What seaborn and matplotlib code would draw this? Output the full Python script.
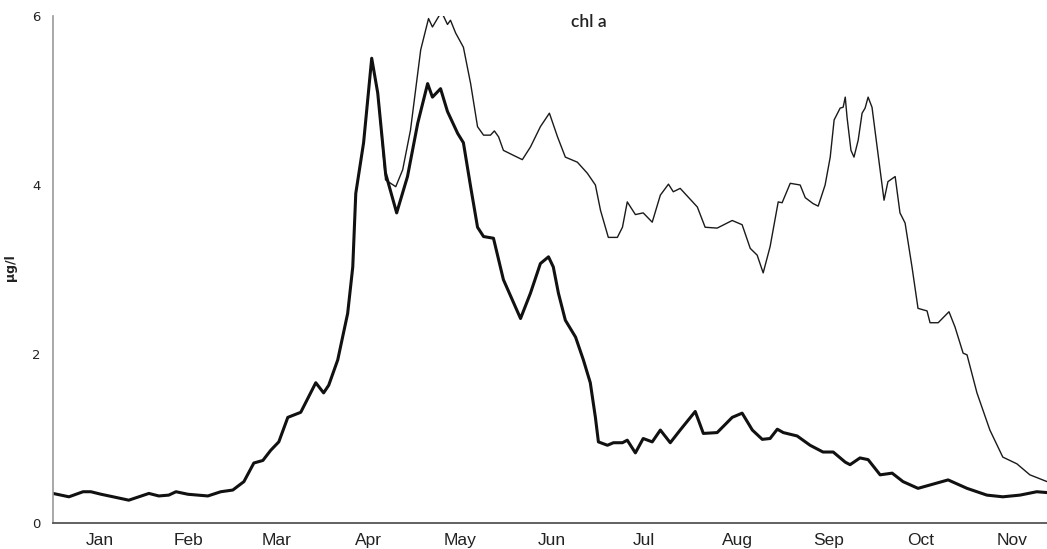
import numpy as np
import pandas as pd
import matplotlib
matplotlib.use("Agg")
import matplotlib.pyplot as plt
import seaborn as sns

# ---- data (day of year, chl a in µg/l) ----
thick_days = [0, 5.3, 10, 12.6, 16, 20, 25.2, 31.9, 35.2, 38.5, 40.9, 44.9, 51.5, 55.8, 59.8,
              63.5, 66.8, 69.8, 72.4, 75.1, 78.1, 82.4, 87.4, 90, 91.7, 94.7, 98, 99.7, 100.7,
              103.3, 106, 108, 110.6, 114.3, 117.9, 121.3, 124.6, 126.2, 128.9, 131.2, 134.6,
              136.5, 138.9, 141.2, 143.2, 146.5, 149.8, 155.5, 158.8, 162.1, 164.8, 166.4,
              168.1, 170.4, 173.8, 176.4, 178.7, 180.4, 181.4, 184.4, 186.4, 189.4, 191, 193.7,
              196.3, 199.3, 202, 205.3, 208.6, 213.6, 216.3, 220.9, 225.9, 229.2, 232.6, 235.9,
              238.5, 240.9, 242.9, 247.5, 251.8, 256.1, 259.5, 263.5, 265.1, 268.4, 271.1,
              275.1, 279.1, 282.7, 287.7, 291.7, 297.7, 304, 310.6, 315.9, 321.6, 327.2, 330.6]
thick_vals = [0.35, 0.31, 0.37, 0.37, 0.34, 0.31, 0.27, 0.35, 0.32, 0.33, 0.37, 0.34, 0.32, 0.37, 0.39,
              0.49, 0.71, 0.74, 0.86, 0.96, 1.25, 1.31, 1.66, 1.54, 1.63, 1.93, 2.48, 3.03, 3.9,
              4.5, 5.5, 5.09, 4.14, 3.67, 4.1, 4.73, 5.2, 5.04, 5.14, 4.87, 4.61,
              4.5, 3.98, 3.5, 3.39, 3.37, 2.88, 2.42, 2.72, 3.07, 3.15, 3.03,
              2.72, 2.4, 2.2, 1.93, 1.66, 1.25, 0.96, 0.92, 0.95, 0.95, 0.98, 0.83,
              1.0, 0.96, 1.1, 0.95, 1.1, 1.32, 1.06, 1.07, 1.25, 1.3, 1.1, 0.99,
              1.0, 1.11, 1.07, 1.03, 0.92, 0.84, 0.84, 0.72, 0.69, 0.77, 0.75,
              0.57, 0.59, 0.49, 0.41, 0.45, 0.51, 0.41, 0.33, 0.31, 0.33, 0.37, 0.36]

# thin line: identical to the thick one up to the April peak (day 108), then:
thin_late_days = [110.6, 114, 116.3, 118.9, 122.3, 124.9, 126.2, 129.2, 131.2, 132.2, 133.9,
                  136.5, 138.9, 141.2, 143.2, 145.5, 146.8, 148.2, 149.8, 153.2, 156.1, 158.8,
                  162.1, 165.1, 167.8, 170.4, 174.4, 177.7, 180.4, 182.1, 184.7, 187.7, 189.4,
                  191, 193.7, 196.3, 199.3, 202, 204.7, 206.3, 208.6, 214.3, 216.9, 220.9,
                  225.9, 229.2, 231.9, 234.2, 236.2, 238.5, 241.2, 242.5, 245.2, 248.5, 250.2,
                  252.8, 254.5, 256.8, 258.5, 259.8, 261.8, 262.8, 263.5, 264.1, 265.4, 266.4,
                  267.8, 269.1, 270.1, 271.1, 272.4, 274.1, 276.4, 277.7, 280.1, 281.7, 283.4,
                  285.7, 287.7, 290.7, 291.7, 294.4, 298, 300, 302.7, 304, 307.3, 311.6, 315.9,
                  320.6, 324.9, 330.6]
thin_late_vals = [4.06, 3.98, 4.18, 4.65, 5.6, 5.97, 5.87, 6.05, 5.9, 5.95, 5.8,
                  5.63, 5.2, 4.69, 4.59, 4.59, 4.64, 4.57, 4.41, 4.35, 4.3, 4.45,
                  4.69, 4.85, 4.57, 4.33, 4.27, 4.14, 4.0, 3.7, 3.38, 3.38, 3.5,
                  3.8, 3.65, 3.67, 3.56, 3.88, 4.01, 3.92, 3.96, 3.74, 3.5, 3.49,
                  3.58, 3.53, 3.25, 3.17, 2.96, 3.27, 3.8, 3.79, 4.02, 4.0, 3.85,
                  3.78, 3.75, 4.0, 4.33, 4.77, 4.91, 4.92, 5.04, 4.8, 4.41, 4.33,
                  4.53, 4.85, 4.91, 5.04, 4.92, 4.45, 3.82, 4.04, 4.1, 3.67, 3.55,
                  3.03, 2.54, 2.51, 2.37, 2.37, 2.5, 2.32, 2.01, 1.99, 1.54, 1.1, 0.78,
                  0.7, 0.57, 0.49]

month_labels = ["Jan", "Feb", "Mar", "Apr", "May", "Jun", "Jul", "Aug", "Sep", "Oct", "Nov"]
month_mid_days = [15.5, 45, 74.5, 105, 135.5, 166, 196.5, 227.5, 258, 288.5, 319]
y_ticks = [0, 2, 4, 6]

# ---- build frames ----
n_early = thick_days.index(108) + 1
thin_days = thick_days[:n_early] + thin_late_days
thin_vals = thick_vals[:n_early] + thin_late_vals
df_thick = pd.DataFrame({"day": thick_days, "chl": thick_vals})
df_thin = pd.DataFrame({"day": thin_days, "chl": thin_vals})

sns.set_style("white")
plt.rcParams["font.family"] = ["DejaVu Sans"]

fig = plt.figure(figsize=(10.47, 5.49), dpi=100)
ax = fig.add_axes([53 / 1047, 1 - 523 / 549, 1 - 53 / 1047, (523 - 16) / 549])

sns.lineplot(data=df_thin, x="day", y="chl", ax=ax, color="#1a1a1a", linewidth=1.0,
             estimator=None, sort=False, solid_joinstyle="round")
sns.lineplot(data=df_thick, x="day", y="chl", ax=ax, color="#111111", linewidth=2.2,
             estimator=None, sort=False, solid_joinstyle="round")

ax.set_xlim(0, 330.6)
ax.set_ylim(0, 6)
ax.set_xticks(month_mid_days)
ax.set_xticklabels(month_labels, fontsize=12.5, family="Liberation Sans", color="#222222")
ax.tick_params(axis="x", length=0, pad=7)
ax.set_yticks(y_ticks)
ax.set_yticklabels([str(t) for t in y_ticks], fontsize=9.5, color="#222222")
ax.tick_params(axis="y", length=4, width=0.8, direction="inout", color="#999999", pad=7)

for s in ["top", "right"]:
    ax.spines[s].set_visible(False)
ax.spines["left"].set_color("#9a9a9a")
ax.spines["left"].set_linewidth(1.2)
ax.spines["bottom"].set_color("#555555")
ax.spines["bottom"].set_linewidth(1.3)

ax.set_xlabel("")
ax.set_ylabel("µg/l", fontsize=9, fontweight="bold", color="#222222")
ax.yaxis.set_label_coords(-36 / 994, (523 - 268) / 507)

fig.text(589 / 1047, 1 - 22 / 549, "chl a", ha="center", va="center", fontsize=12.5,
         family="Lato", fontweight="semibold", color="#222222")

fig.savefig("out.png", dpi=100)
